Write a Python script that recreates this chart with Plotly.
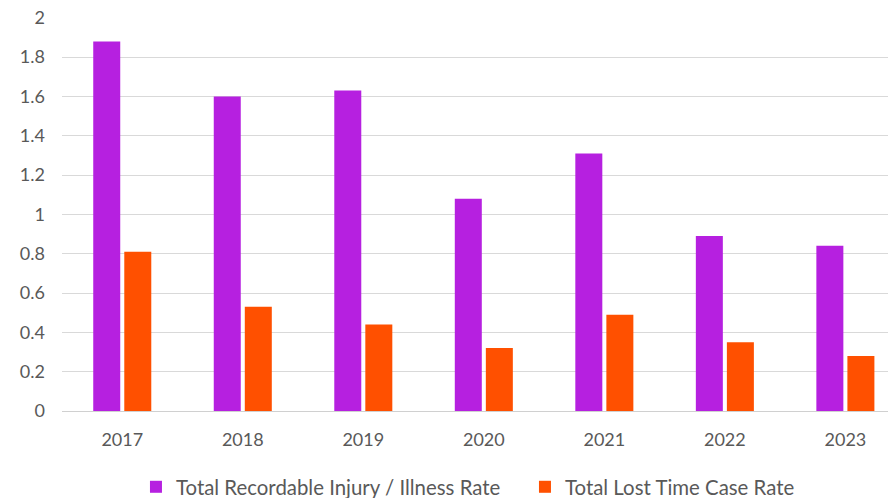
import plotly.graph_objects as go

years = ["2017", "2018", "2019", "2020", "2021", "2022", "2023"]
trir = [1.88, 1.60, 1.63, 1.08, 1.31, 0.89, 0.84]
ltcr = [0.81, 0.53, 0.44, 0.32, 0.49, 0.35, 0.28]
series_names = ["Total Recordable Injury / Illness Rate", "Total Lost Time Case Rate"]
y_ticks = [0, 0.2, 0.4, 0.6, 0.8, 1, 1.2, 1.4, 1.6, 1.8, 2]
y_tick_labels = ["0", "0.2", "0.4", "0.6", "0.8", "1", "1.2", "1.4", "1.6", "1.8", "2"]

FONT = "Lato, 'Open Sans', sans-serif"
fig = go.Figure()
fig.add_trace(go.Bar(x=years, y=trir, name=series_names[0],
                     marker=dict(color="#B620E0", line=dict(width=0))))
fig.add_trace(go.Bar(x=years, y=ltcr, name=series_names[1],
                     marker=dict(color="#FF5000", line=dict(width=0))))

fig.update_layout(
    width=888, height=490,
    margin=dict(l=54, r=0, t=9, b=87, autoexpand=False),
    paper_bgcolor="white", plot_bgcolor="white",
    barmode="group", bargap=0.485, bargroupgap=0.13,
    font=dict(family=FONT, color="#595959", size=18),
    showlegend=True,
    legend=dict(orientation="h", xref="container", x=0.1441, xanchor="left",
                yref="container", y=0.0224, yanchor="middle",
                font=dict(size=20.4, color="#595959"),
                traceorder="normal", itemwidth=30, entrywidth=344),
    xaxis=dict(type="category", range=[-0.5, 6.42], showgrid=False, showline=False,
               ticks="", ticklabelstandoff=16, tickfont=dict(size=18), automargin=False),
    yaxis=dict(range=[0, 2.004], tickvals=y_ticks, ticktext=y_tick_labels,
               showgrid=True, gridcolor="#D9D9D9", gridwidth=1,
               zeroline=True, zerolinecolor="#D0D0D0", zerolinewidth=1,
               showline=False, ticks="", ticklabelstandoff=16, tickfont=dict(size=18),
               automargin=False, ticklabeloverflow="allow"),
)
fig.write_html("out.html")
